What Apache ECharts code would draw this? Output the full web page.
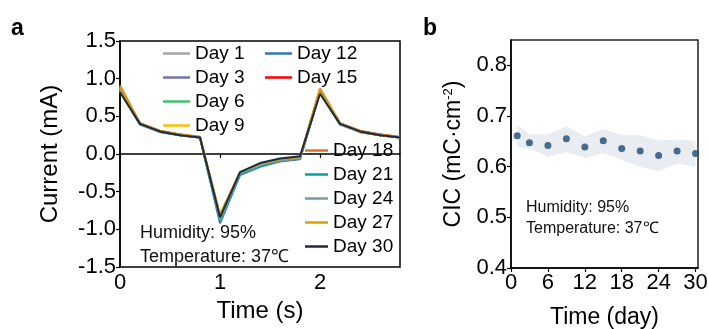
<!DOCTYPE html>
<html><head><meta charset="utf-8">
<script src="https://cdn.jsdelivr.net/npm/echarts@6/dist/echarts.min.js"></script>
<style>html,body{margin:0;padding:0;background:#fff}#c{width:708px;height:329px}</style>
</head><body><div id="c"></div>
<script>
const FONT = '"Liberation Sans", Arial, sans-serif';
const timeS = [0,0.2,0.4,0.6,0.8,1.0,1.2,1.4,1.6,1.8,2.0,2.2,2.4,2.6,2.8];
const dayNames = ['Day 1','Day 3','Day 6','Day 9','Day 12','Day 15','Day 18','Day 21','Day 24','Day 27','Day 30'];
const dayColors = ['#a6a6a6','#7373b0','#3cc468','#ffc000','#2e75b6','#ff0000','#e2702a','#00a3a3','#6f9e9e','#d9a000','#1c2b45'];
const day1  = [0.86,0.40,0.30,0.26,0.22,-0.86,-0.26,-0.15,-0.08,-0.05,0.84,0.40,0.30,0.26,0.22];
const day3  = [0.85,0.40,0.30,0.25,0.22,-0.87,-0.26,-0.15,-0.09,-0.06,0.83,0.40,0.30,0.25,0.22];
const day6  = [0.87,0.41,0.30,0.26,0.22,-0.85,-0.25,-0.14,-0.08,-0.05,0.85,0.40,0.30,0.26,0.22];
const day9  = [0.88,0.41,0.31,0.26,0.23,-0.84,-0.25,-0.14,-0.08,-0.05,0.86,0.41,0.31,0.26,0.23];
const day12 = [0.84,0.39,0.29,0.25,0.22,-0.92,-0.28,-0.17,-0.10,-0.07,0.82,0.39,0.29,0.25,0.22];
const day15 = [0.86,0.40,0.30,0.26,0.22,-0.86,-0.26,-0.15,-0.09,-0.06,0.84,0.40,0.30,0.26,0.22];
const day18 = [0.91,0.41,0.31,0.26,0.23,-0.82,-0.25,-0.14,-0.08,-0.05,0.87,0.41,0.31,0.26,0.23];
const day21 = [0.84,0.40,0.30,0.25,0.22,-0.89,-0.27,-0.16,-0.09,-0.06,0.82,0.40,0.30,0.25,0.22];
const day24 = [0.85,0.40,0.30,0.25,0.22,-0.88,-0.26,-0.15,-0.09,-0.06,0.83,0.40,0.30,0.25,0.22];
const day27 = [0.89,0.41,0.30,0.26,0.22,-0.80,-0.24,-0.13,-0.07,-0.04,0.86,0.40,0.29,0.25,0.22];
const day30 = [0.82,0.40,0.30,0.25,0.22,-0.84,-0.24,-0.12,-0.06,-0.03,0.80,0.40,0.30,0.25,0.22];
const dayValues = [day1,day3,day6,day9,day12,day15,day18,day21,day24,day27,day30];

const cicDays  = [1,3,6,9,12,15,18,21,24,27,30];
const cicMean  = [0.661,0.647,0.642,0.655,0.639,0.651,0.636,0.631,0.622,0.631,0.626];
const cicUpper = [0.682,0.664,0.664,0.680,0.660,0.675,0.662,0.662,0.652,0.653,0.651];
const cicLower = [0.639,0.636,0.619,0.629,0.617,0.627,0.613,0.600,0.591,0.606,0.600];

const xTicksA = [0,1,2];
const yTicksA = [-1.5,-1.0,-0.5,0.0,0.5,1.0,1.5];
const xTicksB = [0,6,12,18,24,30];
const yTicksB = [0.4,0.5,0.6,0.7,0.8];

const chart = echarts.init(document.getElementById('c'), null, {renderer:'canvas'});
const axisLineS = {show:true, lineStyle:{color:'#000', width:1.5}};
const tickS = {show:true, inside:false, length:4, lineStyle:{color:'#000', width:1.2}};

const series = [];
dayNames.forEach((n,i)=>{
  series.push({name:n, type:'line', xAxisIndex:0, yAxisIndex:0, symbol:'none',
    color:dayColors[i], lineStyle:{width:2, color:dayColors[i]},
    data: timeS.map((t,k)=>[t, dayValues[i][k]]), animation:false, z:2+i});
});
series.push({name:'band', type:'custom', xAxisIndex:1, yAxisIndex:1,
  data: cicDays.map((d,k)=>[d, cicLower[k], cicUpper[k]]),
  encode:{x:0, y:[1,2]},
  renderItem:function(params, api){
    if (params.dataIndex !== 0) return null;
    const pts = [];
    for (let k=0;k<cicDays.length;k++) pts.push(api.coord([cicDays[k], cicUpper[k]]));
    for (let k=cicDays.length-1;k>=0;k--) pts.push(api.coord([cicDays[k], cicLower[k]]));
    return {type:'polygon', shape:{points:pts}, style:{fill:'#e9edf2', stroke:null}};
  }, animation:false, z:1, silent:true});
series.push({name:'CIC', type:'scatter', xAxisIndex:1, yAxisIndex:1, symbolSize:7,
  itemStyle:{color:'#1f4872'}, data: cicDays.map((d,k)=>[d, cicMean[k]]), animation:false, z:5});

const legendBase = {orient:'vertical', itemWidth:27, itemHeight:14, itemGap:5, padding:0,
  textStyle:{fontFamily:FONT, fontSize:19, color:'#000', lineHeight:19}, icon:'path://M0,6 L27,6 L27,8.5 L0,8.5 Z'};

chart.setOption({
  animation:false,
  textStyle:{fontFamily:FONT},
  grid:[
    {left:120, top:41, width:280, height:226, show:true, borderColor:'#000', borderWidth:1.5, backgroundColor:'transparent', outerBoundsMode:'none', containLabel:false},
    {left:511, top:40, width:187, height:228, show:true, borderColor:'#222', borderWidth:1.5, backgroundColor:'transparent', outerBoundsMode:'none', containLabel:false}
  ],
  xAxis:[
    {type:'value', gridIndex:0, min:0, max:2.8, name:'Time (s)', nameLocation:'middle', nameGap:32,
     nameTextStyle:{fontFamily:FONT, fontSize:24, color:'#000'},
     axisLine:axisLineS, axisTick:Object.assign({customValues:xTicksA}, tickS), splitLine:{show:false},
     axisLabel:{customValues:xTicksA, fontFamily:FONT, fontSize:22, color:'#000', margin:5}},
    {type:'value', gridIndex:1, min:0, max:30.4, name:'Time (day)', nameLocation:'middle', nameGap:38,
     nameTextStyle:{fontFamily:FONT, fontSize:23, color:'#000'},
     axisLine:axisLineS, axisTick:Object.assign({customValues:xTicksB}, tickS), splitLine:{show:false},
     axisLabel:{customValues:xTicksB, fontFamily:FONT, fontSize:22, color:'#000', margin:4, hideOverlap:false}}
  ],
  yAxis:[
    {type:'value', gridIndex:0, min:-1.5, max:1.5, name:'Current (mA)', nameLocation:'middle', nameGap:58,
     nameTextStyle:{fontFamily:FONT, fontSize:24, color:'#000'},
     axisLine:axisLineS, axisTick:Object.assign({customValues:yTicksA}, tickS), splitLine:{show:false},
     axisLabel:{customValues:yTicksA, fontFamily:FONT, fontSize:22, color:'#000', margin:4,
       formatter:v=>v.toFixed(1)}},
    {type:'value', gridIndex:1, min:0.4, max:0.85, name:'CIC (mC·cm{sup|-2})', nameLocation:'middle', nameGap:46,
     nameTextStyle:{fontFamily:FONT, fontSize:23, color:'#000',
       rich:{sup:{fontFamily:FONT, fontSize:13, color:'#000', verticalAlign:'top', padding:[0,0,10,0]}}},
     axisLine:axisLineS, axisTick:Object.assign({customValues:yTicksB}, tickS), splitLine:{show:false},
     axisLabel:{customValues:yTicksB, fontFamily:FONT, fontSize:22, color:'#000', margin:4,
       verticalAlignMinLabel:'middle', hideOverlap:false,
       formatter:v=>v.toFixed(1)}}
  ],
  legend:[
    Object.assign({}, legendBase, {left:163, top:44, data:dayNames.slice(0,4)}),
    Object.assign({}, legendBase, {left:265, top:44, data:dayNames.slice(4,6)}),
    Object.assign({}, legendBase, {left:305, top:141, itemWidth:23, icon:'path://M0,6 L23,6 L23,8.5 L0,8.5 Z', data:dayNames.slice(6)})
  ],
  graphic:[
    {type:'text', left:11, top:17, style:{text:'a', font:'bold 23px '+FONT, fill:'#000'}},
    {type:'text', left:423, top:17, style:{text:'b', font:'bold 23px '+FONT, fill:'#000'}},
    {type:'text', left:140, top:224, style:{text:'Humidity: 95%', font:'18px '+FONT, fill:'#111'}},
    {type:'text', left:140, top:248, style:{text:'Temperature: 37℃', font:'18px '+FONT, fill:'#111'}},
    {type:'text', left:526, top:200, style:{text:'Humidity: 95%', font:'16px '+FONT, fill:'#111'}},
    {type:'text', left:526, top:221, style:{text:'Temperature: 37℃', font:'16px '+FONT, fill:'#111'}}
  ],
  series: series
});
</script></body></html>
